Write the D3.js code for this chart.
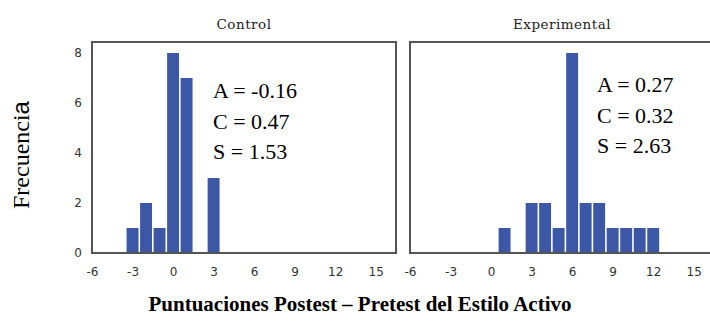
<!DOCTYPE html>
<html>
<head>
<meta charset="utf-8">
<script src="https://d3js.org/d3.v7.min.js"></script>
<style>
  body { margin: 0; background: #fff; }
  .tick-label { font-family: "DejaVu Sans", sans-serif; font-size: 12px; fill: #333; }
  .panel-title { font-family: "DejaVu Serif", serif; font-size: 13.5px; letter-spacing: 0.5px; fill: #222; }
  .stats { font-family: "Liberation Serif", "Times New Roman", serif; font-size: 22px; fill: #000; }
</style>
</head>
<body>
<script>
// ----- DATA -----
const panels = ["Control", "Experimental"];
const scores = [
  [-3, -2, -1, 0, 1, 3],                      // Control
  [1, 3, 4, 5, 6, 7, 8, 9, 10, 11, 12]        // Experimental
];
const counts = [
  [1, 2, 1, 8, 7, 3],
  [1, 2, 2, 1, 8, 2, 2, 1, 1, 1, 1]
];
const statLines = [
  ["A = -0.16", "C = 0.47", "S = 1.53"],
  ["A = 0.27", "C = 0.32", "S = 2.63"]
];
const xTicks = [-6, -3, 0, 3, 6, 9, 12, 15];
const yTicks = [0, 2, 4, 6, 8];

const w = 710;
const h = 325;
const plotTop = 42, plotBottom = 253;
const panelLeft = [92, 410];
const panelWidth = 304;

const svg = d3.select("body")
  .append("svg")
  .attr("width", w)
  .attr("height", h);

// ----- Y SCALE (shared) -----
const yScale = d3.scaleLinear()
  .domain([0, 8.44])
  .range([plotBottom, plotTop]);

panels.forEach((name, p) => {
  const x0 = panelLeft[p];
  const xScale = d3.scaleLinear()
    .domain([-6, 16.5])
    .range([x0, x0 + panelWidth]);

  const g = svg.append("g");

  // ----- BARS -----
  g.selectAll("rect.bar")
    .data(scores[p].map((s, i) => ({ s: s, n: counts[p][i] })))
    .enter()
    .append("rect")
    .attr("class", "bar")
    .attr("x", d => xScale(d.s - 0.5) + 0.8)
    .attr("y", d => yScale(d.n))
    .attr("width", d => xScale(d.s + 0.5) - xScale(d.s - 0.5) - 1.6)
    .attr("height", d => yScale(0) - yScale(d.n))
    .attr("fill", "#3d57a7");

  // ----- FRAME -----
  g.append("rect")
    .attr("x", x0)
    .attr("y", plotTop)
    .attr("width", panelWidth)
    .attr("height", plotBottom - plotTop)
    .attr("fill", "none")
    .attr("stroke", "#555")
    .attr("stroke-width", 2);

  // ----- X AXIS (labels only) -----
  const xAxis = d3.axisBottom(xScale)
    .tickValues(xTicks)
    .tickFormat(d => String(d)) // plain hyphen minus, like the original
    .tickSize(0)
    .tickPadding(14);
  g.append("g")
    .attr("transform", "translate(0," + plotBottom + ")")
    .call(xAxis)
    .call(a => a.select(".domain").remove())
    .selectAll("text")
    .attr("class", "tick-label")
    .attr("font-family", null)
    .attr("font-size", null);

  // ----- Y AXIS (left panel only) -----
  if (p === 0) {
    const yAxis = d3.axisLeft(yScale)
      .tickValues(yTicks)
      .tickSize(0)
      .tickPadding(10);
    g.append("g")
      .attr("transform", "translate(" + x0 + ",0)")
      .call(yAxis)
      .call(a => a.select(".domain").remove())
      .selectAll("text")
      .attr("class", "tick-label")
      .attr("font-family", null)
      .attr("font-size", null);
  }

  // ----- PANEL TITLE -----
  g.append("text")
    .attr("class", "panel-title")
    .attr("x", x0 + panelWidth / 2)
    .attr("y", 29)
    .attr("text-anchor", "middle")
    .text(name);

  // ----- STATS -----
  const statX = p === 0 ? 213 : 597;
  const statY = p === 0 ? 98 : 92;
  g.selectAll("text.stats")
    .data(statLines[p])
    .enter()
    .append("text")
    .attr("class", "stats")
    .attr("x", statX)
    .attr("y", (d, i) => statY + i * 30.5)
    .text(d => d);
});

// ----- AXIS TITLES -----
const yTitle = svg.append("text")
  .attr("transform", "translate(29,155) rotate(-90)")
  .attr("text-anchor", "middle")
  .style("font-family", "Liberation Serif, serif")
  .style("font-size", "24px");
yTitle.append("tspan").text("Frecuenci");
yTitle.append("tspan").style("font-family", "Liberation Sans, sans-serif").text("a");

svg.append("text")
  .attr("x", 360)
  .attr("y", 311)
  .attr("text-anchor", "middle")
  .style("font-family", "Liberation Serif, serif")
  .style("font-size", "21px")
  .style("font-weight", "bold")
  .text("Puntuaciones Postest – Pretest del Estilo Activo");
</script>
</body>
</html>
